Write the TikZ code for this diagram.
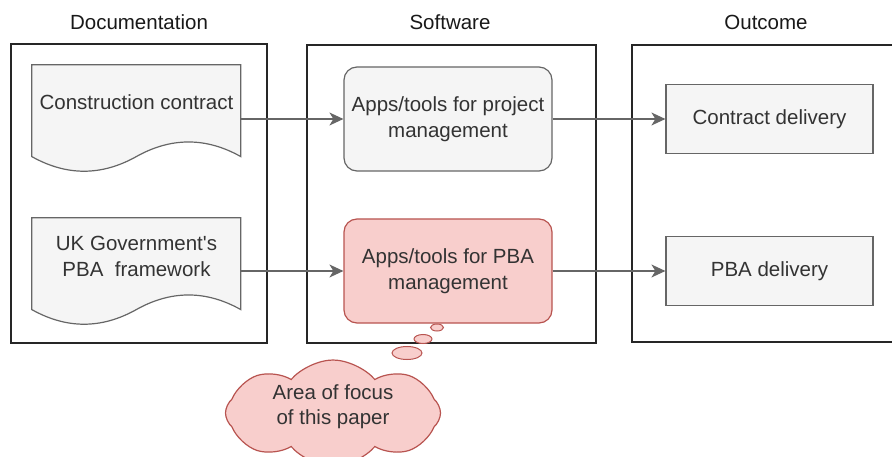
\documentclass[tikz,border=0pt]{standalone}
\usepackage{fontspec}
\setmainfont{Liberation Sans}
\usetikzlibrary{shapes.geometric,shapes.symbols,arrows.meta}

\definecolor{greyfill}{HTML}{F5F5F5}
\definecolor{greyline}{HTML}{666666}
\definecolor{redfill}{HTML}{F8CECC}
\definecolor{redline}{HTML}{B85450}
\definecolor{textgrey}{HTML}{333333}

\tikzset{
  every node/.style={font=\fontsize{20.5}{25.5}\selectfont, text=textgrey, align=center},
  title/.style={text=black!90},
  panel/.style={draw=black!85, line width=1.4pt, inner sep=0pt},
  docbox/.style={minimum width=209pt, minimum height=108pt, inner sep=0pt},
  appbox/.style={draw=greyline, fill=greyfill, rounded corners=13pt, line width=1.2pt,
    minimum width=208pt, minimum height=104pt, inner sep=0pt},
  focusbox/.style={appbox, draw=redline, fill=redfill},
  outbox/.style={draw=greyline, fill=greyfill, line width=1.2pt,
    minimum width=207pt, minimum height=69pt, inner sep=0pt},
  flow/.style={draw=greyline, line width=1.4pt, -{Stealth[length=14pt,width=13pt,inset=4pt]}},
  puff/.style={ellipse, draw=redline, fill=redfill, line width=1pt, inner sep=0pt},
}

% wavy sheet drawn over the bounds of a docbox node
\newcommand{\docsheet}[1]{%
  \begin{scope}[shift={(#1.north west)}]
    \draw[greyline, fill=greyfill, line width=1.2pt]
      (0,0) -- (209,0) -- (209,91.8)
      .. controls (174.2,72.3) and (139.3,72.3) .. (104.5,91.8)
      .. controls (69.7,111.3) and (34.8,111.3) .. (0,91.8) -- cycle;
  \end{scope}}

\begin{document}
\begin{tikzpicture}[x=1pt,y=-1pt]
\useasboundingbox (0,0) rectangle (892,457);

\node[title] (doctitle) at (139,22) {Documentation};
\node[title] (swtitle) at (450,22) {Software};
\node[title] (outtitle) at (766,22) {Outcome};

\node[panel, minimum width=256pt, minimum height=299pt] (docpanel) at (139,193.5) {};
\node[panel, minimum width=289pt, minimum height=298pt] (swpanel) at (451.5,194) {};
\node[panel, minimum width=268pt, minimum height=297pt] (outpanel) at (766,193.5) {};

\node[docbox] (contract) at (136.5,119) {};
\docsheet{contract}
\node (contracttext) at ([yshift=-37pt]contract.north) {Construction contract};

\node[docbox] (framework) at (136.5,272) {};
\docsheet{framework}
\node (frameworktext) at ([yshift=-38.5pt]framework.north) {UK Government\textquotesingle s\\PBA\ \ framework};

\node[appbox] (pmapps) at (448,119) {Apps/tools for project\\management};
\node[focusbox] (pbaapps) at (448,271) {Apps/tools for PBA\\management};

\node[outbox] (contractdel) at (769.5,119) {Contract delivery};
\node[outbox] (pbadel) at (769.5,271) {PBA delivery};

\draw[flow] (contract.east) -- (contract.east -| pmapps.west);
\draw[flow] (framework.east |- pbaapps.west) -- (pbaapps.west);
\draw[flow] (pmapps.east) -- (pmapps.east -| contractdel.west);
\draw[flow] (pbaapps.east) -- (pbaapps.east -| pbadel.west);

\node[puff, minimum width=13pt, minimum height=7pt] (puffa) at (437,327.5) {};
\node[puff, minimum width=18pt, minimum height=9pt] (puffb) at (423,339) {};
\node[puff, minimum width=30pt, minimum height=13pt] (puffc) at (407,353) {};

\node[cloud, cloud puffs=8, cloud puff arc=100, aspect=2.4, draw=redline, fill=redfill,
  line width=1.2pt, minimum width=215pt, minimum height=106pt, inner sep=0pt]
  (focus) at (333,413) {};
\node (focustext) at (333,406.5) {Area of focus\\of this paper};
\end{tikzpicture}
\end{document}
